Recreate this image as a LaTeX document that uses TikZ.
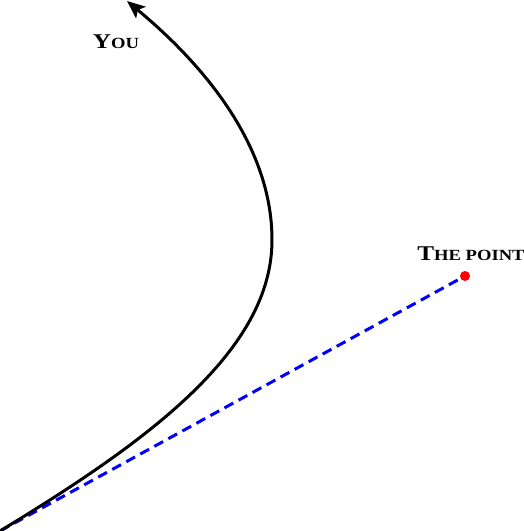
\documentclass[tikz,border=0pt]{standalone}
\usepackage{fontspec}
\usepackage{graphicx}
\setmainfont{Liberation Serif}
\usetikzlibrary{arrows.meta}
\tikzset{
  lbl/.style={font=\bfseries\fontsize{21}{24}\selectfont, inner sep=0pt},
  path/.style={line width=3pt, -{Stealth[length=18pt,width=15pt,inset=4pt]}},
  guide/.style={blue, line width=3pt, dash pattern=on 10pt off 6pt}
}
\newcommand{\smc}[1]{{\fontsize{15.5}{18}\selectfont #1}}
\newcommand{\widen}[1]{\scalebox{1.2}[1]{#1}}
\begin{document}
\begin{tikzpicture}[x=1pt,y=-1pt]
\useasboundingbox (0,0) rectangle (524,531);
\coordinate (start) at (0,531);
\coordinate (turn) at (272,240);
\coordinate (tip) at (127,1);
\node[circle, inner sep=0pt, minimum size=10pt] (pt) at (465,276) {};
\draw[guide] (start) -- (pt.center);
\fill[red] (pt) circle (5pt);
\draw[path] (start) .. controls (150,440) and (272,350) .. (turn)
  .. controls (272,150) and (210,70) .. (tip);
\node[lbl] (you) at (116,42) {\widen{Y\smc{OU}}};
\node[lbl] (tp) at (471,254) {\widen{T\smc{HE POINT}}};
\end{tikzpicture}
\end{document}
